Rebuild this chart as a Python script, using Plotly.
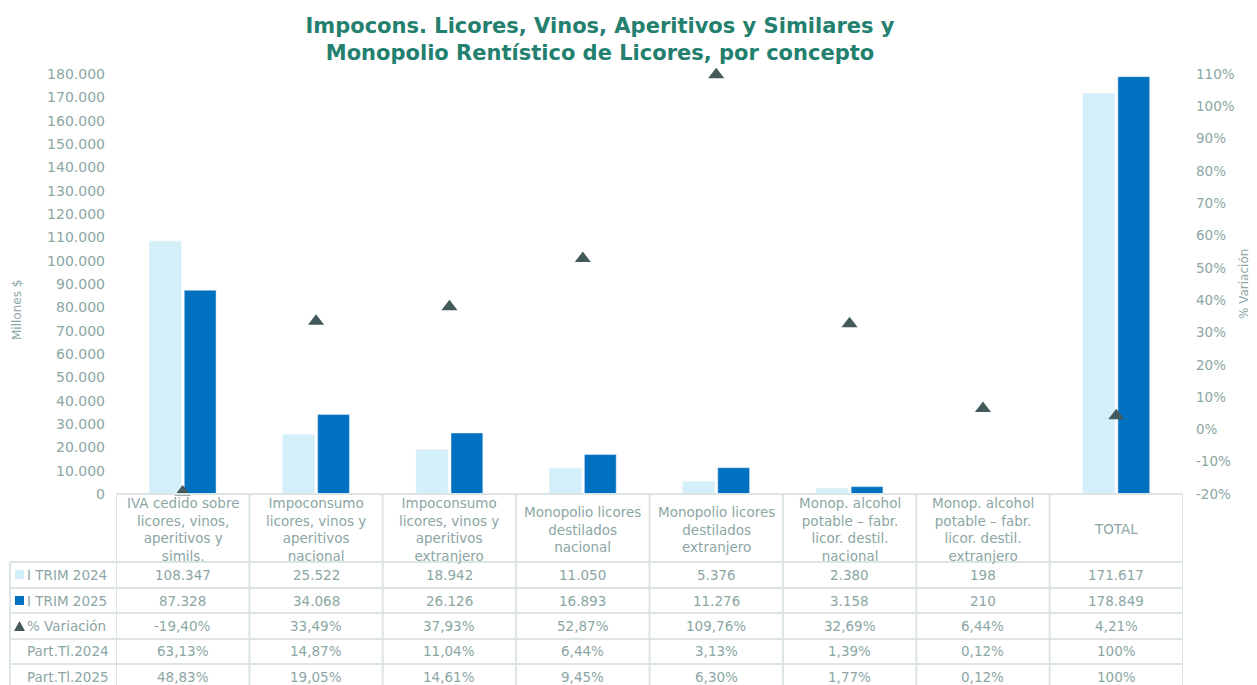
import plotly.graph_objects as go

categories = [
    "IVA cedido sobre<br>licores, vinos,<br>aperitivos y<br>simils.",
    "Impoconsumo<br>licores, vinos y<br>aperitivos<br>nacional",
    "Impoconsumo<br>licores, vinos y<br>aperitivos<br>extranjero",
    "Monopolio licores<br>destilados<br>nacional",
    "Monopolio licores<br>destilados<br>extranjero",
    "Monop. alcohol<br>potable – fabr.<br>licor. destil.<br>nacional",
    "Monop. alcohol<br>potable – fabr.<br>licor. destil.<br>extranjero",
    "TOTAL",
]
trim_2024 = [108347, 25522, 18942, 11050, 5376, 2380, 198, 171617]
trim_2025 = [87328, 34068, 26126, 16893, 11276, 3158, 210, 178849]
variacion = [-19.40, 33.49, 37.93, 52.87, 109.76, 32.69, 6.44, 4.21]
part_2024 = [63.13, 14.87, 11.04, 6.44, 3.13, 1.39, 0.12, 100]
part_2025 = [48.83, 19.05, 14.61, 9.45, 6.30, 1.77, 0.12, 100]
row_labels = ["I TRIM 2024", "I TRIM 2025", "% Variación", "Part.Tl.2024", "Part.Tl.2025"]
y_ticks = list(range(0, 180001, 10000))
y2_ticks = list(range(-20, 111, 10))

C_LIGHT = "#D2EFFA"
C_DARK = "#0070C0"
C_TRI = "#44595A"
C_TEXT = "#8BA6A4"
C_TITLE = "#23806F"
C_GRID = "#DCE4E4"
FONT = "DejaVu Sans"

OFF = 8  # page body margin
W, H = 1257 - OFF, 685 - OFF
# reference-picture pixel positions
L, R, T, B = 116, 1183, 74, 494
n = len(categories)
xs = list(range(n))


def fmt_int(v):
    return f"{v:,}".replace(",", ".")


def fmt_pct(v):
    if v == 100:
        return "100%"
    return f"{v:.2f}".replace(".", ",") + "%"


def py(p):
    return (B - p) / (B - T)


def px(p):
    return (p - L) / (R - L)


fig = go.Figure()
fig.add_trace(go.Bar(x=xs, y=trim_2024, name="I TRIM 2024", marker_color=C_LIGHT, yaxis="y"))
fig.add_trace(go.Bar(x=xs, y=trim_2025, name="I TRIM 2025", marker_color=C_DARK, yaxis="y"))
fig.add_trace(go.Scatter(x=xs, y=variacion, name="% Variación", mode="markers", yaxis="y2",
                         marker=dict(symbol="triangle-up", size=14, color=C_TRI), cliponaxis=False))

TF = 13.5
shapes = []
annotations = []
line = dict(color=C_GRID, width=2)
row_lines = [562, 588, 613, 639, 664, 690]
shapes.append(dict(type="line", xref="x", yref="paper", x0=-0.5, x1=n - 0.5, y0=py(494), y1=py(494), line=line))
for rl in row_lines:
    shapes.append(dict(type="line", xref="paper", yref="paper", x0=px(10), x1=1, y0=py(rl), y1=py(rl), line=line))
for i in range(n + 1):
    shapes.append(dict(type="line", xref="x", yref="paper", x0=i - 0.5, x1=i - 0.5, y0=py(494), y1=py(700), line=line))
shapes.append(dict(type="line", xref="paper", yref="paper", x0=px(10), x1=px(10), y0=py(562), y1=py(700), line=line))

for i, c in enumerate(categories):
    annotations.append(dict(x=i, y=py(529), xref="x", yref="paper", text=c, showarrow=False,
                            font=dict(family=FONT, size=TF, color=C_TEXT), align="center",
                            xanchor="center", yanchor="middle"))

rows = [
    [fmt_int(v) for v in trim_2024],
    [fmt_int(v) for v in trim_2025],
    [fmt_pct(v) for v in variacion],
    [fmt_pct(v) for v in part_2024],
    [fmt_pct(v) for v in part_2025],
]
row_centers = [575, 601, 626, 651, 677]
for r, (lab, vals, rc) in enumerate(zip(row_labels, rows, row_centers)):
    annotations.append(dict(x=px(25), y=py(rc), xref="paper", yref="paper", text=lab, showarrow=False,
                            font=dict(family=FONT, size=TF, color=C_TEXT), xanchor="left", yanchor="middle"))
    for i, v in enumerate(vals):
        annotations.append(dict(x=i, y=py(rc), xref="x", yref="paper", text=v, showarrow=False,
                                font=dict(family=FONT, size=TF, color=C_TEXT), xanchor="center", yanchor="middle"))

shapes.append(dict(type="rect", xref="paper", yref="paper", x0=px(15), x1=px(24), y0=py(570), y1=py(579),
                   fillcolor=C_LIGHT, line=dict(width=0)))
shapes.append(dict(type="rect", xref="paper", yref="paper", x0=px(15), x1=px(24), y0=py(596), y1=py(605),
                   fillcolor=C_DARK, line=dict(width=0)))
shapes.append(dict(type="path", xref="paper", yref="paper",
                   path=f"M {px(14)},{py(631)} L {px(25)},{py(631)} L {px(19.5)},{py(621)} Z",
                   fillcolor=C_TRI, line=dict(width=0)))

annotations.append(dict(x=px(17), y=py(310), xref="paper", yref="paper", text="Millones $", showarrow=False,
                        textangle=-90, font=dict(family=FONT, size=12, color=C_TEXT), xanchor="center",
                        yanchor="middle"))
annotations.append(dict(x=px(1244), y=py(284), xref="paper", yref="paper", text="% Variación", showarrow=False,
                        textangle=-90, font=dict(family=FONT, size=12, color=C_TEXT), xanchor="center",
                        yanchor="middle"))

fig.update_layout(
    width=W, height=H,
    margin=dict(l=L - OFF, r=W - (R - OFF), t=T - OFF, b=H - (B - OFF), pad=0),
    paper_bgcolor="white", plot_bgcolor="white",
    separators=",.",
    showlegend=False,
    barmode="group", bargap=0.476, bargroupgap=0.09,
    font=dict(family=FONT, size=13, color=C_TEXT),
    title=dict(text="Impocons. Licores, Vinos, Aperitivos y Similares y<br>Monopolio Rentístico de Licores, por concepto",
               x=(600 - OFF) / W, xref="container", xanchor="center", y=1 - (33 - OFF) / H, yref="container",
               yanchor="middle",
               font=dict(family=FONT, size=21, color=C_TITLE, weight="bold")),
    xaxis=dict(range=[-0.5, n - 0.5], showticklabels=False, showgrid=False, zeroline=False, showline=False,
               tickmode="array", tickvals=xs),
    yaxis=dict(range=[0, 180000], tickvals=y_ticks, tickformat=",d", showgrid=False, zeroline=False,
               showline=False, ticklabelstandoff=10, tickfont=dict(family=FONT, size=14, color=C_TEXT)),
    yaxis2=dict(range=[-20, 110], overlaying="y", side="right", tickvals=y2_ticks,
                ticktext=[f"{v}%" for v in y2_ticks], showgrid=False, zeroline=False, showline=False,
                ticklabelstandoff=12, tickfont=dict(family=FONT, size=13.5, color=C_TEXT)),
    shapes=shapes,
    annotations=annotations,
)

fig.write_html("out.html")
